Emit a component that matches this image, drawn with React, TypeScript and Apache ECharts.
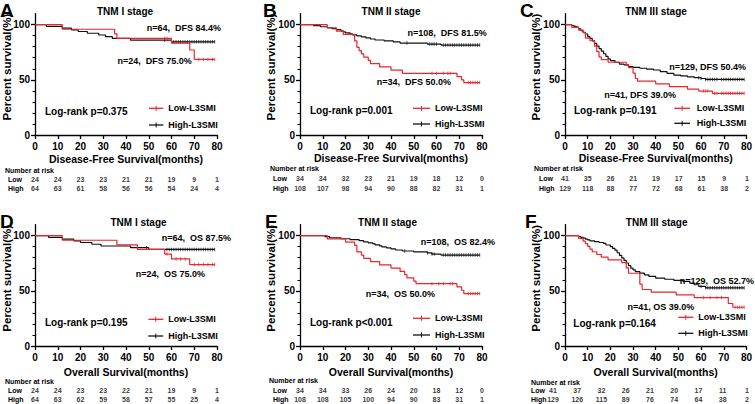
import React, { useEffect, useRef } from 'react';
import * as echarts from 'echarts';

type Step = [number, number];

// ---------- shared axis values ----------
const months = [0, 10, 20, 30, 40, 50, 60, 70, 80];
const yMajor = [0, 50, 100];
const yMinor = [10, 20, 30, 40, 60, 70, 80, 90];
const riskRows = ['Low', 'High'];

// ---------- A: DFS, TNM I ----------
const lowA: Step[] = [[0, 100], [12, 95.8], [35, 91.7], [36, 87.5], [60, 83.3], [68, 77.0], [70, 68.5], [79, 68.5]];
const lowCensorA = [57, 58, 72, 74, 76, 78, 79];
const highA: Step[] = [[0, 100], [5, 98.4], [12, 96.9], [16, 95.3], [19, 93.8], [23, 92.2], [28, 90.6], [31, 89.1], [34, 87.5], [42, 85.9], [60, 84.4], [79, 84.4]];
const highCensorA = [57, 61, 62, 63, 64, 65, 66, 67, 68, 69, 70, 71, 72, 73, 74, 75, 76, 77, 78, 79];
const riskLowA = [24, 24, 23, 23, 21, 21, 19, 9, 1];
const riskHighA = [64, 63, 61, 58, 56, 56, 54, 24, 4];

// ---------- B: DFS, TNM II ----------
const lowB: Step[] = [[0, 100], [12, 97.1], [16, 94.1], [19, 91.2], [24, 85.3], [25, 79.4], [26, 76.5], [27, 73.5], [28, 70.6], [30, 67.6], [31, 64.7], [35, 61.8], [40, 58.8], [45, 55.9], [69, 52.9], [71, 50.0], [72, 47.5], [79, 47.5]];
const lowCensorB = [58, 60, 63, 65, 66, 74, 75, 76, 77, 78, 79];
const highB: Step[] = [[0, 100], [6, 99.1], [9, 98.1], [12, 97.2], [14, 96.3], [16, 95.4], [18, 94.4], [19, 93.5], [20, 92.6], [22, 91.7], [23, 90.7], [25, 89.8], [27, 88.9], [29, 88.0], [31, 87.0], [33, 86.1], [37, 85.2], [41, 84.3], [44, 83.3], [56, 82.4], [62, 81.5], [79, 81.5]];
const highCensorB = [47, 57, 58, 59, 60, 63, 64, 65, 66, 67, 68, 69, 70, 71, 72, 73, 74, 75, 76, 77, 78, 79];
const riskLowB = [34, 34, 32, 23, 21, 19, 18, 12, 0];
const riskHighB = [108, 107, 98, 94, 90, 88, 82, 31, 1];

// ---------- C: DFS, TNM III ----------
const lowC: Step[] = [[0, 100], [3, 97.6], [6, 95.1], [8, 92.7], [9, 87.8], [11, 85.4], [13, 80.5], [14, 75.6], [15, 70.7], [16, 68.3], [19, 65.9], [27, 63.4], [28, 61.0], [30, 56.1], [31, 51.2], [32, 48.8], [40, 46.3], [46, 43.9], [54, 41.5], [59, 39.8], [65, 37.8], [79, 37.8]];
const lowCensorC = [61, 62, 63, 66, 67, 69, 70, 71, 72, 73, 74, 75, 76, 77, 78, 79];
const highC: Step[] = [[0, 100], [3, 99.2], [4, 98.4], [5, 97.7], [6, 96.1], [7, 94.6], [8, 93.0], [9, 91.5], [10, 89.1], [11, 87.6], [12, 85.3], [13, 83.0], [14, 80.6], [15, 78.3], [16, 76.0], [17, 73.6], [18, 71.3], [19, 69.0], [20, 67.4], [22, 65.9], [24, 64.3], [26, 63.6], [28, 62.0], [30, 61.2], [33, 60.5], [36, 59.7], [39, 58.9], [42, 57.4], [45, 55.8], [48, 54.3], [51, 53.5], [54, 52.7], [57, 51.9], [60, 51.2], [62, 50.4], [79, 50.4]];
const highCensorC = [59, 60, 62, 63, 64, 65, 66, 67, 69, 70, 71, 72, 73, 74, 75, 76, 77, 78, 79];
const riskLowC = [41, 35, 26, 21, 19, 17, 15, 9, 1];
const riskHighC = [129, 118, 88, 77, 72, 68, 61, 38, 2];

// ---------- D: OS, TNM I ----------
const lowD: Step[] = [[0, 100], [12, 95.8], [36, 91.7], [45, 87.5], [57, 83.3], [60, 78.9], [68, 73.8], [79, 73.8]];
const lowCensorD = [58, 62, 64, 66, 70, 72, 74, 76, 78, 79];
const highD: Step[] = [[0, 100], [6, 98.4], [12, 96.9], [17, 95.3], [20, 93.8], [25, 92.2], [29, 90.6], [42, 89.1], [50, 87.5], [79, 87.5]];
const highCensorD = [49, 58, 59, 60, 61, 62, 63, 64, 65, 66, 67, 68, 69, 70, 71, 72, 73, 74, 75, 76, 77, 78, 79];
const riskLowD = [24, 24, 23, 23, 22, 21, 19, 9, 1];
const riskHighD = [64, 63, 62, 59, 58, 57, 55, 25, 4];

// ---------- E: OS, TNM II ----------
const lowE: Step[] = [[0, 100], [12, 97.1], [20, 94.1], [24, 91.2], [25, 85.3], [27, 82.4], [28, 79.4], [31, 76.5], [35, 73.5], [40, 70.6], [44, 67.6], [46, 64.7], [47, 61.8], [50, 58.8], [51, 56.5], [69, 53.5], [71, 50.5], [72, 47.5], [79, 47.5]];
const lowCensorE = [58, 61, 63, 66, 67, 74, 75, 76, 77, 78, 79];
const highE: Step[] = [[0, 100], [11, 99.1], [13, 98.1], [18, 97.2], [22, 96.3], [26, 95.4], [28, 94.4], [30, 93.5], [32, 92.6], [33, 91.7], [35, 90.7], [36, 89.8], [38, 88.9], [40, 88.0], [42, 87.0], [45, 86.1], [50, 85.2], [56, 84.3], [58, 83.3], [62, 82.4], [79, 82.4]];
const highCensorE = [46, 56, 58, 59, 63, 64, 65, 66, 67, 68, 69, 70, 71, 72, 73, 74, 75, 76, 77, 78, 79];
const riskLowE = [34, 34, 33, 26, 24, 20, 18, 12, 0];
const riskHighE = [108, 108, 105, 100, 94, 90, 83, 31, 1];

// ---------- F: OS, TNM III ----------
const lowF: Step[] = [[0, 100], [6, 97.6], [8, 95.1], [9, 92.7], [10, 90.2], [11, 87.8], [12, 85.4], [14, 82.9], [16, 80.5], [19, 78.0], [25, 75.6], [27, 70.7], [28, 65.9], [33, 56.1], [34, 51.2], [38, 48.8], [49, 46.3], [57, 43.9], [72, 38.5], [74, 35.1], [79, 35.1]];
const lowCensorF = [61, 64, 67, 69, 75, 76, 77, 78, 79];
const highF: Step[] = [[0, 100], [6, 99.2], [7, 98.4], [8, 97.7], [9, 96.9], [10, 96.1], [11, 95.3], [13, 94.6], [15, 93.8], [17, 93.0], [18, 91.5], [20, 90.0], [21, 88.4], [22, 86.8], [23, 84.5], [24, 82.2], [25, 79.8], [26, 77.5], [27, 75.2], [28, 72.9], [29, 70.5], [30, 69.0], [31, 67.4], [33, 66.0], [35, 64.5], [37, 63.0], [40, 61.5], [44, 60.5], [48, 59.5], [52, 58.5], [55, 57.0], [57, 55.5], [59, 54.0], [62, 52.7], [79, 52.7]];
const highCensorF = [60, 62, 63, 64, 65, 66, 67, 68, 69, 70, 71, 72, 73, 74, 75, 76, 77, 78, 79];
const riskLowF = [41, 37, 32, 26, 21, 20, 17, 11, 1];
const riskHighF = [129, 126, 115, 89, 76, 74, 64, 38, 2];

const FONT = "'Liberation Sans', Arial, Helvetica, sans-serif";
const RED = '#e8262b';
const BLACK = '#111111';

const panels = [
  {
    letter: 'A', title: 'TNM I stage', xName: 'Disease-Free Survival(months)',
    low: lowA, lowCensor: lowCensorA, high: highA, highCensor: highCensorA, riskLow: riskLowA, riskHigh: riskHighA,
    highText: 'n=64,  DFS 84.4%', lowText: 'n=24,  DFS 75.0%', logRank: 'Log-rank p=0.375',
    L: { gx: 35, gTop: 13.6, nameGap: 18, letter: [0, 10], title: [125, 11.7], hiT: [221, 28.3], loT: [191.7, 60.7], log: [45, 111], leg: [149, 163.3, 168.3, 108.3, 125], yName: [6.5, 67], head: [5, 170], tLeft: 35, tW: 182, tTop: 174.2, tH: 19.4, labM: 27 },
  },
  {
    letter: 'B', title: 'TNM II stage', xName: 'Disease-Free Survival(months)',
    low: lowB, lowCensor: lowCensorB, high: highB, highCensor: highCensorB, riskLow: riskLowB, riskHigh: riskHighB,
    highText: 'n=108,  DFS 81.5%', lowText: 'n=34,  DFS 50.0%', logRank: 'Log-rank p=0.001',
    L: { gx: 300, gTop: 13.6, nameGap: 17, letter: [263, 10], title: [391, 11.7], hiT: [486.7, 32.7], loT: [451, 81.5], log: [310, 110], leg: [413, 430, 435, 108.3, 124], yName: [270.8, 67], head: [270, 168.5], tLeft: 300, tW: 182, tTop: 173.5, tH: 19.4, labM: 27 },
  },
  {
    letter: 'C', title: 'TNM III stage', xName: 'Disease-Free Survival(months)',
    low: lowC, lowCensor: lowCensorC, high: highC, highCensor: highCensorC, riskLow: riskLowC, riskHigh: riskHighC,
    highText: 'n=129, DFS 50.4%', lowText: 'n=41, DFS 39.0%', logRank: 'Log-rank p=0.191',
    L: { gx: 565, gTop: 13.6, nameGap: 17, letter: [520, 10], title: [656, 11.7], hiT: [746, 66.5], loT: [676, 94.5], log: [574, 110], leg: [674.3, 690, 696.7, 108.3, 123.3], yName: [535.8, 67], head: [534, 168.5], tLeft: 565, tW: 182, tTop: 173.5, tH: 19.4, labM: 26 },
  },
  {
    letter: 'D', title: 'TNM I stage', xName: 'Overall Survival(months)',
    low: lowD, lowCensor: lowCensorD, high: highD, highCensor: highCensorD, riskLow: riskLowD, riskHigh: riskHighD,
    highText: 'n=64,  OS 87.5%', lowText: 'n=24,  OS 75.0%', logRank: 'Log-rank p=0.195',
    L: { gx: 35, gTop: 224.6, nameGap: 20, letter: [0, 221.7], title: [138.5, 222.7], hiT: [231, 238.3], loT: [205, 274], log: [45, 322.7], leg: [148.3, 163.3, 168.3, 319.3, 336], yName: [6.5, 278.3], head: [5, 381.7], tLeft: 35, tW: 182, tTop: 386, tH: 18.6, labM: 27 },
  },
  {
    letter: 'E', title: 'TNM II stage', xName: 'Overall Survival(months)',
    low: lowE, lowCensor: lowCensorE, high: highE, highCensor: highCensorE, riskLow: riskLowE, riskHigh: riskHighE,
    highText: 'n=108,  OS 82.4%', lowText: 'n=34,  OS 50.0%', logRank: 'Log-rank p<0.001',
    L: { gx: 300, gTop: 224.6, nameGap: 20, letter: [265, 221.7], title: [387.5, 222.7], hiT: [495, 242.3], loT: [435, 294.3], log: [310, 322.7], leg: [413, 430, 435, 318.3, 335], yName: [270.8, 278.3], head: [269, 380.7], tLeft: 300, tW: 182, tTop: 385.5, tH: 18.6, labM: 27 },
  },
  {
    letter: 'F', title: 'TNM III stage', xName: 'Overall Survival(months)',
    low: lowF, lowCensor: lowCensorF, high: highF, highCensor: highCensorF, riskLow: riskLowF, riskHigh: riskHighF,
    highText: 'n=129,  OS 52.7%', lowText: 'n=41, OS 39.0%', logRank: 'Log-rank p=0.164',
    L: { gx: 565, gTop: 224.6, nameGap: 20, letter: [525, 221.7], title: [656.7, 222.7], hiT: [754, 281], loT: [694.3, 307.3], log: [573.3, 323.3], leg: [678.3, 693.3, 698.3, 317.3, 333.3], yName: [535.8, 278.3], head: [531, 382], tLeft: 553, tW: 194, tTop: 386, tH: 18.6, labM: 22 },
  },
];

function survAt(steps: Step[], t: number): number {
  let s = steps[0][1];
  for (const [x, y] of steps) {
    if (x <= t) s = y;
    else break;
  }
  return s;
}

function txt(text: string, x: number, y: number, size: number, align = 'left', extra: any = {}) {
  return {
    type: 'text', x, y, silent: true, z: 10, ...extra,
    style: { text, fontFamily: FONT, fontSize: size, fontWeight: 'bold', fill: '#000', align, verticalAlign: 'middle' },
  };
}

function buildOption() {
  const grid: any[] = [];
  const xAxis: any[] = [];
  const yAxis: any[] = [];
  const series: any[] = [];
  const graphic: any[] = [];
  const axisLineStyle = { color: '#000', width: 1.3 };
  const labelStyle = { fontFamily: FONT, fontSize: 10, fontWeight: 'bold', color: '#000' };

  panels.forEach((p) => {
    const L = p.L;
    // ---- survival plot ----
    const gi = grid.length;
    grid.push({ left: L.gx, top: L.gTop, width: 182, height: 121.4 });
    const xi = xAxis.length;
    xAxis.push({
      type: 'value', gridIndex: gi, min: 0, max: 80, interval: 10,
      name: p.xName, nameLocation: 'middle', nameGap: L.nameGap,
      nameTextStyle: { fontFamily: FONT, fontSize: 10.5, fontWeight: 'bold', color: '#000' },
      axisLine: { show: true, onZero: false, lineStyle: axisLineStyle },
      axisTick: { show: true, length: 4, lineStyle: axisLineStyle },
      axisLabel: { ...labelStyle, margin: 6.5 },
      splitLine: { show: false },
    });
    const yi = yAxis.length;
    yAxis.push({
      type: 'value', gridIndex: gi, position: 'left', min: 0, max: 110, interval: 10,
      axisLine: { show: true, onZero: false, lineStyle: axisLineStyle },
      axisTick: { show: true, length: 4, customValues: yMajor, lineStyle: axisLineStyle },
      axisLabel: { ...labelStyle, margin: 5, customValues: yMajor, formatter: (v: number) => (yMajor.includes(v) ? String(v) : '') },
      splitLine: { show: false },
    });
    yAxis.push({
      type: 'value', gridIndex: gi, position: 'left', min: 0, max: 110, interval: 10,
      axisLine: { show: false },
      axisTick: { show: true, length: 2.5, customValues: yMinor, lineStyle: { color: '#000', width: 1 } },
      axisLabel: { show: false },
      splitLine: { show: false },
    });

    series.push({
      type: 'line', name: 'High-L3SMI', xAxisIndex: xi, yAxisIndex: yi, data: p.high, step: 'end',
      symbol: 'none', lineStyle: { color: BLACK, width: 1.2 }, silent: true, z: 2,
    });
    series.push({
      type: 'scatter', xAxisIndex: xi, yAxisIndex: yi, silent: true, z: 2,
      data: p.highCensor.map((t) => [t, survAt(p.high, t)]),
      symbol: 'rect', symbolSize: [0.9, 3.5], itemStyle: { color: BLACK },
    });
    series.push({
      type: 'line', name: 'Low-L3SMI', xAxisIndex: xi, yAxisIndex: yi, data: p.low, step: 'end',
      symbol: 'none', lineStyle: { color: RED, width: 1.2 }, silent: true, z: 3,
    });
    series.push({
      type: 'scatter', xAxisIndex: xi, yAxisIndex: yi, silent: true, z: 3,
      data: p.lowCensor.map((t) => [t, survAt(p.low, t)]),
      symbol: 'rect', symbolSize: [0.9, 3.5], itemStyle: { color: RED },
    });

    // ---- number-at-risk table ----
    const tg = grid.length;
    grid.push({ left: L.tLeft, top: L.tTop, width: L.tW, height: L.tH });
    const txi = xAxis.length;
    xAxis.push({ type: 'value', gridIndex: tg, min: 0, max: 80, show: false });
    const tyi = yAxis.length;
    yAxis.push({
      type: 'category', gridIndex: tg, data: riskRows, inverse: true,
      axisLine: { show: false }, axisTick: { show: false }, splitLine: { show: false },
      axisLabel: { interval: 0, hideOverlap: false, align: 'left', margin: L.labM, fontFamily: FONT, fontSize: 7, fontWeight: 'bold', color: '#000' },
    });
    series.push({
      type: 'scatter', xAxisIndex: txi, yAxisIndex: tyi, silent: true,
      symbolSize: 1, itemStyle: { color: 'rgba(0,0,0,0)' },
      data: [
        ...months.map((m, i) => [m, 'Low', p.riskLow[i]]),
        ...months.map((m, i) => [m, 'High', p.riskHigh[i]]),
      ],
      label: {
        show: true, position: 'inside', formatter: (d: any) => String(d.value[2]),
        fontFamily: FONT, fontSize: 7, fontWeight: 'bold', color: '#000',
      },
    });

    // ---- texts ----
    graphic.push(txt(p.letter, L.letter[0], L.letter[1], 19));
    graphic.push(txt(p.title, L.title[0], L.title[1], 10, 'center'));
    graphic.push(txt(p.highText, L.hiT[0], L.hiT[1], 9, 'right'));
    graphic.push(txt(p.lowText, L.loT[0], L.loT[1], 9, 'right'));
    graphic.push(txt(p.logRank, L.log[0], L.log[1], 10));
    graphic.push(txt('Number at risk', L.head[0], L.head[1], 7));
    graphic.push(txt('Percent survival(%)', L.yName[0], L.yName[1], 11.5, 'center', { rotation: Math.PI / 2 }));

    // ---- legend ----
    const [lx1, lx2, ltx, ly1, ly2] = L.leg;
    const mid = (lx1 + lx2) / 2;
    [[ly1, RED, 'Low-L3SMI'], [ly2, BLACK, 'High-L3SMI']].forEach(([y, c, name]: any) => {
      graphic.push({ type: 'line', silent: true, shape: { x1: lx1, y1: y, x2: lx2, y2: y }, style: { stroke: c, lineWidth: 1.3 } });
      graphic.push({ type: 'line', silent: true, shape: { x1: mid, y1: y - 2.5, x2: mid, y2: y + 2.5 }, style: { stroke: c, lineWidth: 1 } });
      graphic.push(txt(name, ltx, y, 9));
    });
  });

  return { animation: false, backgroundColor: '#fff', grid, xAxis, yAxis, series, graphic };
}

export default function App() {
  const ref = useRef<HTMLDivElement>(null);
  useEffect(() => {
    if (!ref.current) return;
    const chart = echarts.init(ref.current, undefined, { renderer: 'svg' });
    chart.setOption(buildOption() as any);
    return () => chart.dispose();
  }, []);
  return <div ref={ref} style={{ position: 'fixed', left: 0, top: 0, width: 755, height: 404, background: '#fff' }} />;
}
